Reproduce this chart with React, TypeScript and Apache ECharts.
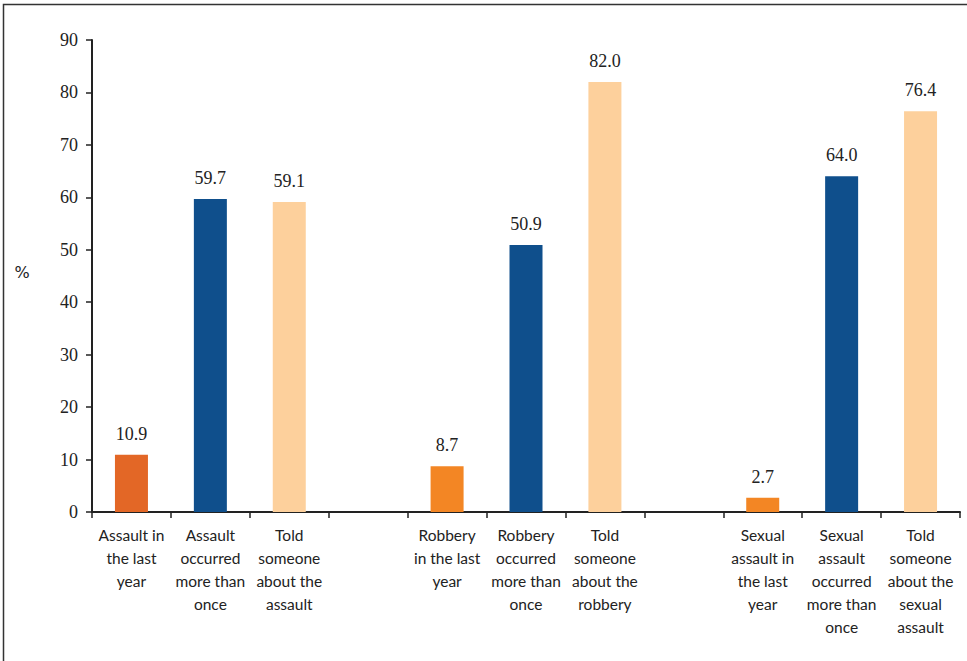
import React, { useEffect, useRef } from "react";
import * as echarts from "echarts";

const categories = [
  "Assault in\nthe last\nyear",
  "Assault\noccurred\nmore than\nonce",
  "Told\nsomeone\nabout the\nassault",
  "",
  "Robbery\nin the last\nyear",
  "Robbery\noccurred\nmore than\nonce",
  "Told\nsomeone\nabout the\nrobbery",
  "",
  "Sexual\nassault in\nthe last\nyear",
  "Sexual\nassault\noccurred\nmore than\nonce",
  "Told\nsomeone\nabout the\nsexual\nassault",
];
const values: (number | null)[] = [10.9, 59.7, 59.1, null, 8.7, 50.9, 82.0, null, 2.7, 64.0, 76.4];
const barColors = ["#E36726", "#0F4F8C", "#FDD09C", "", "#F38624", "#0F4F8C", "#FDD09C", "", "#F38624", "#0F4F8C", "#FDD09C"];
const yTicks = { min: 0, max: 90, interval: 10 };

export default function App() {
  const ref = useRef<HTMLDivElement>(null);
  useEffect(() => {
    const chart = echarts.init(ref.current!, null, { renderer: "svg" });
    chart.setOption({
      animation: false,
      backgroundColor: "#fff",
      grid: { left: 92, right: 7, top: 40, bottom: 149 },
      graphic: [
        {
          type: "rect",
          shape: { x: 3.5, y: 4.5, width: 1200, height: 1000 },
          style: { fill: "none", stroke: "#333", lineWidth: 1.5 },
          silent: true,
        },
        {
          type: "text",
          x: 22,
          y: 272,
          style: { text: "%", font: "16px 'DejaVu Sans'", fill: "#222", align: "center", verticalAlign: "middle" },
        },
      ],
      xAxis: {
        type: "category",
        data: categories,
        boundaryGap: true,
        axisLine: { lineStyle: { color: "#222", width: 2 } },
        axisTick: { show: true, alignWithLabel: false, length: 6, lineStyle: { color: "#222", width: 1.5 } },
        axisLabel: {
          interval: 0,
          margin: 11,
          color: "#222",
          fontFamily: "Lato",
          fontSize: 15.5,
          lineHeight: 23,
          align: "center",
          verticalAlign: "top",
        },
      },
      yAxis: {
        type: "value",
        min: yTicks.min,
        max: yTicks.max,
        interval: yTicks.interval,
        axisLine: { show: true, lineStyle: { color: "#222", width: 2 } },
        axisTick: { show: true, length: 6, lineStyle: { color: "#222", width: 1.5 } },
        splitLine: { show: false },
        axisLabel: { color: "#222", fontFamily: "Liberation Serif", fontSize: 18, margin: 14 },
      },
      series: [
        {
          type: "bar",
          barWidth: 33,
          data: values.map((v, i) =>
            v === null ? null : { value: v, itemStyle: { color: barColors[i] } }
          ),
          label: {
            show: true,
            position: "top",
            distance: 12,
            color: "#222",
            fontFamily: "Liberation Serif",
            fontSize: 18,
            formatter: (p: any) => Number(p.value).toFixed(1),
          },
        },
      ],
    });
    return () => chart.dispose();
  }, []);
  return <div ref={ref} style={{ width: 967, height: 661, position: "absolute", left: 0, top: 0 }} />;
}
